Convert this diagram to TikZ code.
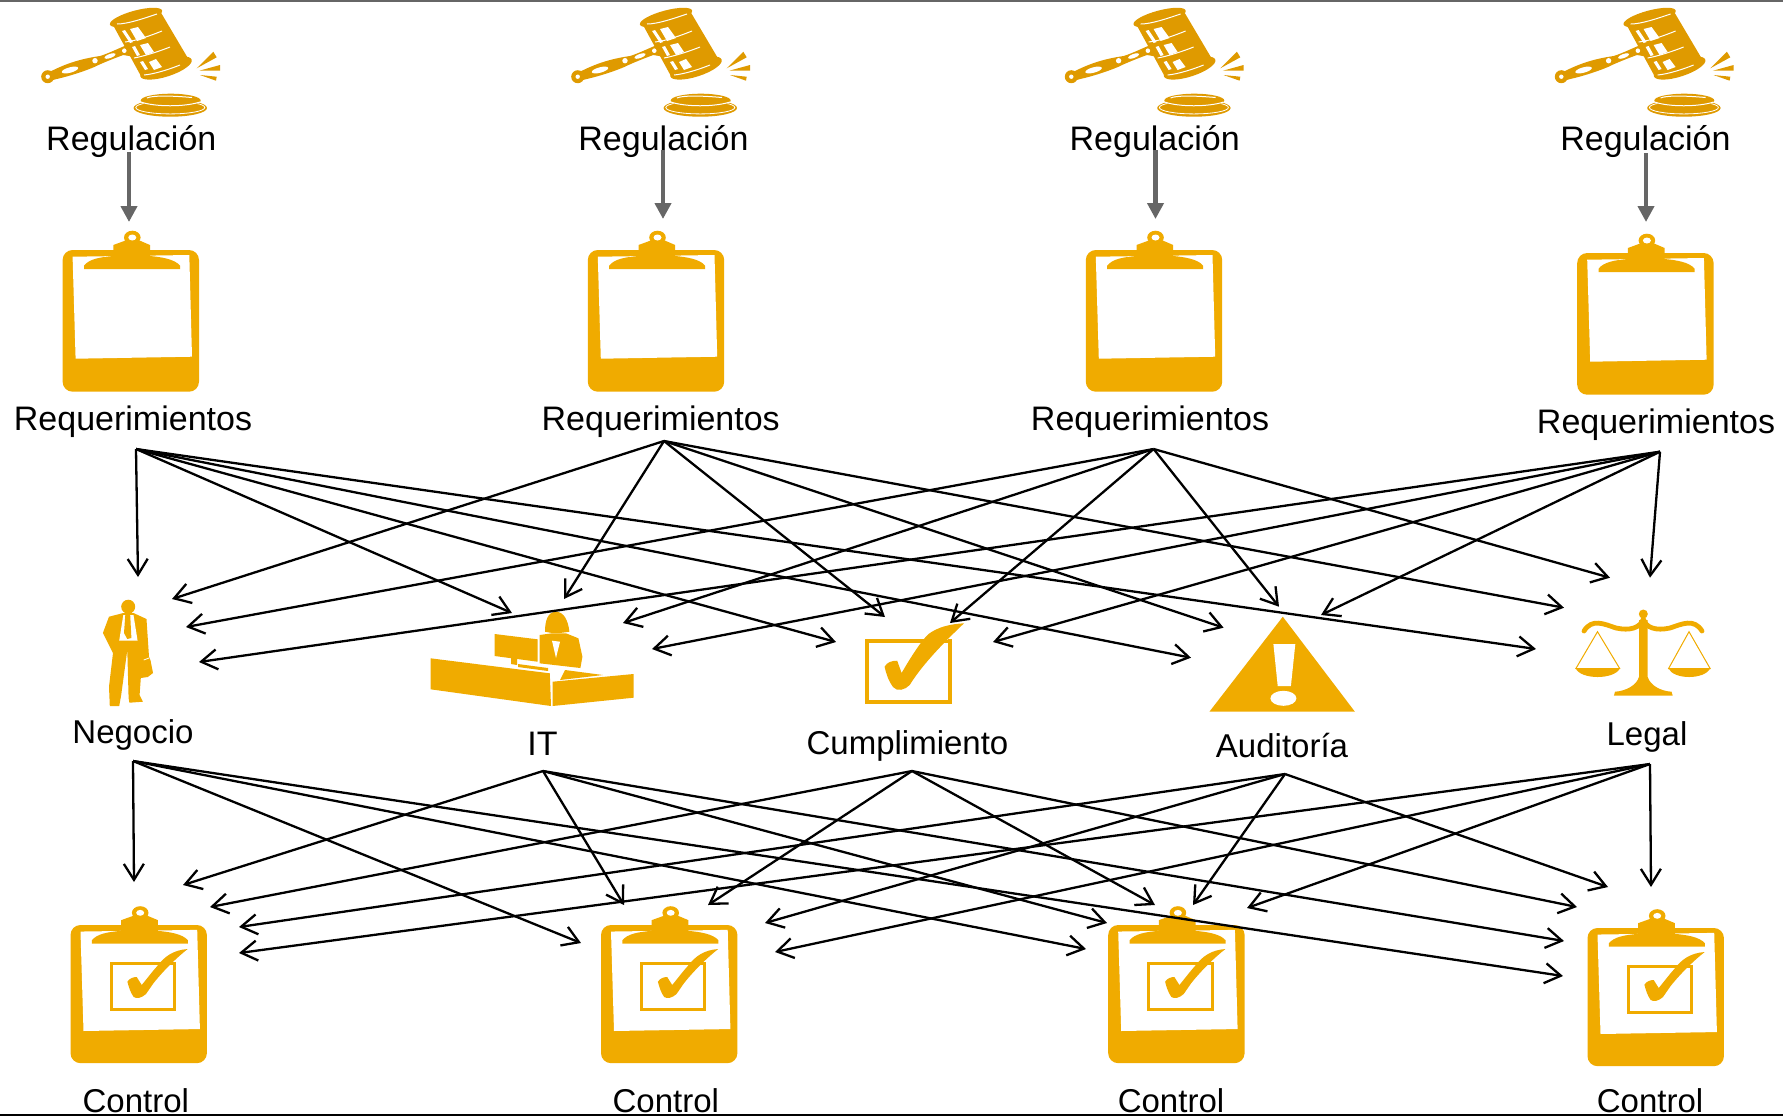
\documentclass[tikz,border=0pt]{standalone}
\usepackage{fontspec}
\setmainfont{Liberation Sans}
\usetikzlibrary{arrows.meta}
\definecolor{iconorange}{HTML}{F0AB00}
\definecolor{gavelorange}{HTML}{DF9A00}
\definecolor{feedgray}{HTML}{666666}
\tikzset{
gavel/.pic={
\fill[gavelorange] (50,71.7) .. controls (66.7,63.3) and (80,59) .. (100,56) .. controls (110,53) and (123,46) .. (131.7,43.3) -- (133.3,56.7) -- (123.3,55) .. controls (115,58) and (100,64) .. (95,66.7) .. controls (85,71) and (70,76) .. (56.7,79) -- (46.7,81.7) -- cycle;
\fill[gavelorange] (47.7,76.7) circle (6.5);
\fill[white] (47.7,76.7) circle (2.2);
\fill[white,rotate around={15:(70,70)}] (70,70) ellipse [x radius=8.5, y radius=2.7];
\fill[white] (95,60.7) circle (2.7);
\fill[white,rotate around={20:(110,56)}] (110,56) ellipse [x radius=6, y radius=2];
\fill[white] (124.3,50.7) circle (2.3);
\fill[gavelorange] (113,25) -- (160,11) -- (189,60) -- (142,78) -- cycle;
\fill[gavelorange,rotate around={15:(136,17.5)}] (136,17.5) ellipse [x radius=27, y radius=7];
\fill[gavelorange,rotate around={18:(166,68)}] (166,68) ellipse [x radius=27, y radius=8.5];
\fill[white] (130,29) -- (138,27) -- (146,38) -- (137,41) -- cycle;
\fill[white] (140,45) -- (148,43) -- (154,52) -- (146,55) -- cycle;
\fill[white] (149,62) -- (156,59) -- (162,67) -- (154,70) -- cycle;
\fill[white] (122,31) -- (125,30) -- (133,42) -- (130,43) -- cycle;
\fill[white] (132,47) -- (135,46) -- (140,55) -- (137,56) -- cycle;
\fill[white] (140,62) -- (143,61) -- (148,69) -- (145,70) -- cycle;
\draw[white,line width=0.5pt] (117,24) .. controls (128,24) and (145,18) .. (157,14);
\draw[white,line width=0.5pt] (125,42) .. controls (136,41) and (152,35) .. (162,31);
\draw[white,line width=0.5pt] (134,58) .. controls (145,56) and (160,51) .. (170,47);
\draw[white,line width=0.5pt] (144,75) .. controls (155,74) and (170,69) .. (180,65);
\fill[gavelorange] (196.7,68.3) -- (213.3,51.7) -- (216.7,57.3) -- cycle;
\fill[gavelorange] (199.3,70.7) -- (220,65) -- (220,70.7) -- cycle;
\fill[gavelorange] (200,75) -- (216.7,76.7) -- (216,80.7) -- cycle;
\fill[gavelorange] (170.3,108) ellipse [x radius=36.7, y radius=8.7];
\draw[white,line width=0.4pt] (170.3,107.5) ellipse [x radius=34.5, y radius=6.4];
\fill[gavelorange] (170.7,100.5) ellipse [x radius=30, y radius=6.8];
\draw[white,line width=0.5pt] (147,98) .. controls (152,95.5) and (170,95.5) .. (192,97.5);
\draw[white,line width=0.5pt] (141,102) .. controls (155,107) and (185,107) .. (200,102);
},
clipboard/.pic={
\fill[iconorange,rounded corners=5pt] (-68.2,0) rectangle (68.2,141.7);
\fill[white] (-58.2,6.7) -- (58.5,5) -- (61.2,106.7) -- (-55.2,108.7) -- cycle;
\fill[iconorange] (1.5,-12.5) ellipse [x radius=8.3, y radius=6.8];
\fill[iconorange] (-17.5,-5) -- (-5.8,-9.3) -- (9.2,-9.3) -- (19.2,-5) -- (19.2,6) .. controls (30,7) and (44,9) .. (49.2,15.7) -- (49.2,19) -- (-46.8,19) -- (-46.8,15.7) .. controls (-42,9) and (-30,7) .. (-17.5,6) -- cycle;
\fill[white] (1.5,-12.5) ellipse [x radius=4, y radius=3];
},
controlboard/.pic={
\pic[yscale=0.975] {clipboard};
\draw[iconorange,line width=1.5pt] (-27.7,38) rectangle (35.7,84);
\draw[white,line width=0.7pt] (27,33) -- (42,33);
\fill[iconorange] (-11.3,56.7) .. controls (-9,53) and (-5,52) .. (-2,52) -- (3,60) .. controls (8,54) and (14,46) .. (18,41.7) .. controls (26,31) and (35,25) .. (49,24) .. controls (40,31) and (26,44) .. (14.7,58.3) -- (7.3,69) .. controls (3,73) and (-2,74) .. (-5,72) .. controls (-8,68) and (-10,62) .. (-11.3,56.7) -- cycle;
},
}
\begin{document}
\begin{tikzpicture}[x=0.5pt,y=-0.5pt,lbl/.style={anchor=base,inner sep=0pt,font=\fontsize{17}{20}\selectfont},lblsmall/.style={anchor=base,inner sep=0pt,font=\fontsize{16.5}{20}\selectfont},wire/.style={draw=black,line width=1.15pt,-{Straight Barb[length=8pt,width=10pt]}},feed/.style={draw=feedgray,line width=2.4pt,-{Triangle[length=8pt,width=8pt]}}]
\useasboundingbox (0,0) rectangle (1783,1116);
\pic at (0,0) {gavel};
\pic at (530,0) {gavel};
\pic at (1023.6,0) {gavel};
\pic at (1513.6,0) {gavel};
\node[lbl] (regl1) at (131.3,150) {Regulación};
\node[lbl] (regl2) at (663.5,150) {Regulación};
\node[lbl] (regl3) at (1154.7,150) {Regulación};
\node[lbl] (regl4) at (1645.4,150) {Regulación};
\pic at (130.8,250) {clipboard};
\pic at (656,250) {clipboard};
\pic at (1154,250) {clipboard};
\pic at (1645.4,253) {clipboard};
\node[lbl] (req1) at (133,430) {Requerimientos};
\node[lbl] (req2) at (660.7,430) {Requerimientos};
\node[lbl] (req3) at (1150,430) {Requerimientos};
\node[lbl] (req4) at (1656,433) {Requerimientos};
\coordinate (regout1) at (129,152);
\coordinate (regout2) at (663,150);
\coordinate (regout3) at (1155.5,150);
\coordinate (regout4) at (1646,153);
\coordinate (reqtop1) at (129,222);
\coordinate (reqtop2) at (663,219);
\coordinate (reqtop3) at (1155.5,219);
\coordinate (reqtop4) at (1646,222);
\draw[feed] (regout1) -- (reqtop1);
\draw[feed] (regout2) -- (reqtop2);
\draw[feed] (regout3) -- (reqtop3);
\draw[feed] (regout4) -- (reqtop4);
\fill[iconorange] (128.2,606.7) ellipse [x radius=7, y radius=7];
\fill[iconorange] (125,610) rectangle (131.5,615);
\fill[iconorange] (109,616.7) -- (123.3,613) -- (133.5,613) -- (146.5,619) -- (149,656.7) -- (150.6,660.7) -- (153,673) -- (147.8,677) -- (140.8,678) -- (139.6,695) -- (142.9,701.7) -- (129.4,702.7) -- (128.6,698) -- (127.3,650) -- (121.2,695) -- (119.2,706) -- (109.8,706) -- (109,686.7) -- (113,653) -- (102.9,633) -- cycle;
\fill[white] (123.3,615) -- (133.5,615) -- (137.6,640.7) -- (119.2,640.7) -- cycle;
\fill[iconorange] (125.3,615) -- (130.2,615) -- (131.4,638) -- (127.3,639) -- (124,633) -- cycle;
\draw[white,line width=0.4pt] (143.7,660) -- (149,658);
\node[lblsmall] (neg) at (133,743.8) {Negocio};
\fill[iconorange] (430.6,658.3) -- (549.8,673.3) -- (551,706) -- (430.6,689.3) -- cycle;
\fill[iconorange] (552.5,681.7) -- (633.5,674) -- (633.5,697.7) -- (552.5,706) -- cycle;
\fill[iconorange] (494.7,634) -- (537.6,639.3) -- (537.6,661.7) -- (494.7,656) -- cycle;
\fill[iconorange] (511,656) -- (517,657) -- (517,665) -- (511,664) -- cycle;
\fill[iconorange] (545,631.7) .. controls (545,620) and (548,612) .. (556,611.7) .. controls (564,612) and (568,620) .. (569.4,631.7) -- (560,633) -- (552,633) -- cycle;
\fill[iconorange] (539.6,635) -- (552,633.3) -- (566,633.3) -- (578.4,638.3) -- (582.4,656.7) -- (580.4,668) -- (539.6,663.3) -- cycle;
\fill[white] (552,640.7) -- (560,641.7) -- (556,658) -- cycle;
\fill[iconorange] (518,664) -- (548,668) -- (548,671) -- (518,667) -- cycle;
\fill[iconorange] (565,670) -- (603,675) -- (560,680) -- cycle;
\node[lbl] (it) at (542.5,755) {IT};
\draw[iconorange,line width=2pt] (866.5,640.5) rectangle (949.5,702);
\draw[white,line width=0.5pt] (936,639) -- (948,639);
\fill[iconorange] (884.6,666.7) .. controls (887,662) and (892,660.7) .. (897.2,660.7) -- (901.6,673) .. controls (912,655) and (922,640) .. (928.5,634) .. controls (938,627) and (950,624) .. (964,623.3) .. controls (955,632) and (925,660) .. (909.7,685) .. controls (905,690) and (897,692) .. (893,687) .. controls (888,680) and (886,673) .. (884.6,666.7) -- cycle;
\node[lblsmall] (cump) at (907.5,754) {Cumplimiento};
\fill[iconorange] (1282.8,616.7) -- (1354.9,711.7) -- (1209.4,711.7) -- cycle;
\fill[white] (1273.4,644) -- (1295.3,644) -- (1290.9,686) -- (1277.7,686) -- cycle;
\fill[white] (1283.4,698.3) ellipse [x radius=13, y radius=7.5];
\node[lblsmall] (aud) at (1282,757.7) {Auditoría};
\draw[iconorange,line width=2.4pt,line cap=round] (1584,631) .. controls (1592,618) and (1604,624) .. (1616,628) .. controls (1630,631) and (1640,628) .. (1643.3,619) .. controls (1646,628) and (1656,631) .. (1670,628) .. controls (1682,624) and (1694,618) .. (1702,631);
\fill[iconorange] (1643.3,614) circle (4.5);
\fill[iconorange] (1639,620) -- (1647.6,620) -- (1647.6,676.7) .. controls (1650,685) and (1660,691) .. (1671.5,691.7) -- (1672.7,695.7) -- (1613.9,695.7) -- (1615,691.7) .. controls (1626,691) and (1637,685) .. (1639,676.7) -- cycle;
\draw[iconorange,line width=0.5pt] (1575.6,669) -- (1597.5,631.7) -- (1620,669);
\draw[iconorange,line width=0.5pt] (1668.3,669) -- (1689,631.7) -- (1710.4,669);
\fill[iconorange] (1575.6,668) -- (1620,668) .. controls (1615,680) and (1580,680) .. (1575.6,668) -- cycle;
\fill[iconorange] (1668.3,668) -- (1710.4,668) .. controls (1705,680) and (1673,680) .. (1668.3,668) -- cycle;
\node[lblsmall] (leg) at (1647,745) {Legal};
\coordinate (reqout1) at (136,449);
\coordinate (reqout2) at (664,441);
\coordinate (reqout3) at (1153.6,449);
\coordinate (reqout4) at (1660,451.7);
\coordinate (negin1) at (138,577);
\coordinate (negin2) at (172,599);
\coordinate (negin3) at (186,627);
\coordinate (negin4) at (199,662);
\coordinate (itin1) at (512,613);
\coordinate (itin2) at (564,599);
\coordinate (itin3) at (623,623);
\coordinate (itin4) at (652,649);
\coordinate (cumpin1) at (836,642);
\coordinate (cumpin2) at (885,617);
\coordinate (cumpin3) at (950,623);
\coordinate (cumpin4) at (993,642);
\coordinate (audin1) at (1191,657.7);
\coordinate (audin2) at (1223.6,627.7);
\coordinate (audin3) at (1279,606.7);
\coordinate (audin4) at (1321,615);
\coordinate (legin1) at (1536,649);
\coordinate (legin2) at (1564,607.7);
\coordinate (legin3) at (1610,577.7);
\coordinate (legin4) at (1650,577.7);
\draw[wire] (reqout1) -- (negin1);
\draw[wire] (reqout1) -- (itin1);
\draw[wire] (reqout1) -- (cumpin1);
\draw[wire] (reqout1) -- (audin1);
\draw[wire] (reqout1) -- (legin1);
\draw[wire] (reqout2) -- (negin2);
\draw[wire] (reqout2) -- (itin2);
\draw[wire] (reqout2) -- (cumpin2);
\draw[wire] (reqout2) -- (audin2);
\draw[wire] (reqout2) -- (legin2);
\draw[wire] (reqout3) -- (negin3);
\draw[wire] (reqout3) -- (itin3);
\draw[wire] (reqout3) -- (cumpin3);
\draw[wire] (reqout3) -- (audin3);
\draw[wire] (reqout3) -- (legin3);
\draw[wire] (reqout4) -- (negin4);
\draw[wire] (reqout4) -- (itin4);
\draw[wire] (reqout4) -- (cumpin4);
\draw[wire] (reqout4) -- (audin4);
\draw[wire] (reqout4) -- (legin4);
\pic at (138.7,925) {controlboard};
\pic at (669.2,925) {controlboard};
\pic at (1176.4,925) {controlboard};
\pic at (1655.7,928) {controlboard};
\coordinate (negout) at (133,761);
\coordinate (itout) at (543,771);
\coordinate (cumpout) at (912,771);
\coordinate (audout) at (1285,774);
\coordinate (legout) at (1650,764);
\coordinate (ctrlina1) at (134,882);
\coordinate (ctrlina2) at (183,885);
\coordinate (ctrlina3) at (210,907);
\coordinate (ctrlina4) at (239,927);
\coordinate (ctrlina5) at (239,953);
\coordinate (ctrlinb1) at (581,943);
\coordinate (ctrlinb2) at (624,905);
\coordinate (ctrlinb3) at (708,905);
\coordinate (ctrlinb4) at (765,923);
\coordinate (ctrlinb5) at (775,952);
\coordinate (ctrlinc1) at (1086,949);
\coordinate (ctrlinc2) at (1107,923);
\coordinate (ctrlinc3) at (1155,905);
\coordinate (ctrlinc4) at (1193,905);
\coordinate (ctrlinc5) at (1247,908);
\coordinate (ctrlind1) at (1563,976);
\coordinate (ctrlind2) at (1564,941);
\coordinate (ctrlind3) at (1577,907);
\coordinate (ctrlind4) at (1608,887);
\coordinate (ctrlind5) at (1651,887);
\draw[wire] (negout) -- (ctrlina1);
\draw[wire] (negout) -- (ctrlinb1);
\draw[wire] (negout) -- (ctrlinc1);
\draw[wire] (negout) -- (ctrlind1);
\draw[wire] (itout) -- (ctrlina2);
\draw[wire] (itout) -- (ctrlinb2);
\draw[wire] (itout) -- (ctrlinc2);
\draw[wire] (itout) -- (ctrlind2);
\draw[wire] (cumpout) -- (ctrlina3);
\draw[wire] (cumpout) -- (ctrlinb3);
\draw[wire] (cumpout) -- (ctrlinc3);
\draw[wire] (cumpout) -- (ctrlind3);
\draw[wire] (audout) -- (ctrlina4);
\draw[wire] (audout) -- (ctrlinb4);
\draw[wire] (audout) -- (ctrlinc4);
\draw[wire] (audout) -- (ctrlind4);
\draw[wire] (legout) -- (ctrlina5);
\draw[wire] (legout) -- (ctrlinb5);
\draw[wire] (legout) -- (ctrlinc5);
\draw[wire] (legout) -- (ctrlind5);
\node[lblsmall] (ctrl1) at (135.8,1112) {Control};
\node[lblsmall] (ctrl2) at (665.8,1112) {Control};
\node[lblsmall] (ctrl3) at (1171,1112) {Control};
\node[lblsmall] (ctrl4) at (1650,1112) {Control};
\fill[feedgray] (0,0) rectangle (1783,2.4);
\fill[black] (0,1114.3) rectangle (1783,1116);
\end{tikzpicture}
\end{document}
